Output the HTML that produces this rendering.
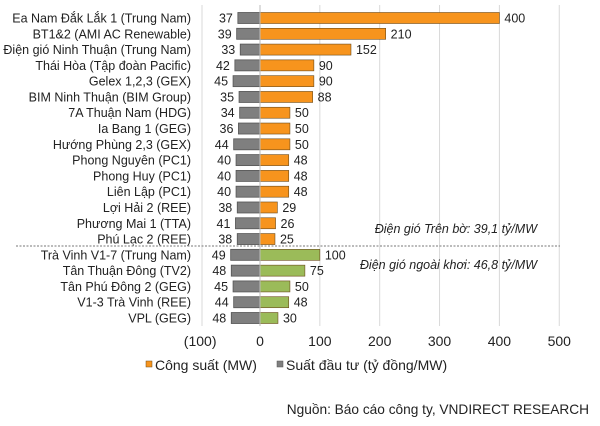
<!DOCTYPE html>
<html><head><meta charset="utf-8"><style>
body{margin:0;background:#fff;}
svg text{font-family:"Liberation Sans",sans-serif;fill:#222;}
</style></head><body>
<svg id="s" width="600" height="421" xmlns="http://www.w3.org/2000/svg"></svg>
<script>
const rows=[["Ea Nam Đắk Lắk 1 (Trung Nam)",37,400],["BT1&2 (AMI AC Renewable)",39,210],["Điện gió Ninh Thuận (Trung Nam)",33,152],["Thái Hòa (Tập đoàn Pacific)",42,90],["Gelex 1,2,3 (GEX)",45,90],["BIM Ninh Thuận (BIM Group)",35,88],["7A Thuận Nam (HDG)",34,50],["Ia Bang 1 (GEG)",36,50],["Hướng Phùng 2,3 (GEX)",44,50],["Phong Nguyên (PC1)",40,48],["Phong Huy (PC1)",40,48],["Liên Lập (PC1)",40,48],["Lợi Hải 2 (REE)",38,29],["Phương Mai 1 (TTA)",41,26],["Phú Lạc 2 (REE)",38,25],["Trà Vinh V1-7 (Trung Nam)",49,100],["Tân Thuận Đông (TV2)",48,75],["Tân Phú Đông 2 (GEG)",45,50],["V1-3 Trà Vinh (REE)",44,48],["VPL (GEG)",48,30]];
const X=v=>260+v*0.5985;let h='';
for(let v=100;v<=500;v+=100)h+=`<line x1="${X(v)}" y1="5" x2="${X(v)}" y2="326" stroke="#d9d9d9"/>`;
h+=`<line x1="202" y1="5" x2="202" y2="326" stroke="#d9d9d9"/>`;
rows.forEach((r,i)=>{const y=18+i*15.79;const c=i<15?"#F7941D":"#9BBB59";
h+=`<text x="191" y="${y+4.5}" font-size="12.5" text-anchor="end">${r[0].replace('&','&amp;')}</text>`;
h+=`<rect x="${X(-r[1])}" y="${y-5.5}" width="${r[1]*0.5985}" height="11" fill="#7f7f7f" stroke="#555" stroke-width="0.8"/>`;
h+=`<rect x="260" y="${y-5.5}" width="${r[2]*0.5985}" height="11" fill="${c}" stroke="#6b4a1a" stroke-width="0.6"/>`;
h+=`<text x="${X(-r[1])-5}" y="${y+4.5}" font-size="12.5" text-anchor="end">${r[1]}</text>`;
h+=`<text x="${X(r[2])+5}" y="${y+4.5}" font-size="12.5">${r[2]}</text>`;});
h+=`<line x1="260" y1="5" x2="260" y2="326" stroke="#bbb"/>`;
h+=`<line x1="16" y1="246" x2="560" y2="246" stroke="#777" stroke-dasharray="2,1.5"/>`;
h+=`<text x="537" y="233" font-size="12.5" font-style="italic" text-anchor="end">Điện gió Trên bờ: 39,1 tỷ/MW</text>`;
h+=`<text x="537" y="269" font-size="12.5" font-style="italic" text-anchor="end">Điện gió ngoài khơi: 46,8 tỷ/MW</text>`;
[[-100,"(100)"],[0,"0"],[100,"100"],[200,"200"],[300,"300"],[400,"400"],[500,"500"]].forEach(t=>h+=`<text x="${X(t[0])}" y="346" font-size="14" text-anchor="middle">${t[1]}</text>`);
h+=`<rect x="146" y="361" width="6" height="6" fill="#F7941D" stroke="#6b4a1a" stroke-width="0.5"/><text x="155" y="370" font-size="14">Công suất (MW)</text>`;
h+=`<rect x="277" y="361" width="6" height="6" fill="#7f7f7f" stroke="#555" stroke-width="0.5"/><text x="286" y="370" font-size="14">Suất đầu tư (tỷ đồng/MW)</text>`;
h+=`<text x="589" y="414" font-size="13.7" text-anchor="end">Nguồn: Báo cáo công ty, VNDIRECT RESEARCH</text>`;
document.getElementById('s').innerHTML=h;
</script>
</body></html>
